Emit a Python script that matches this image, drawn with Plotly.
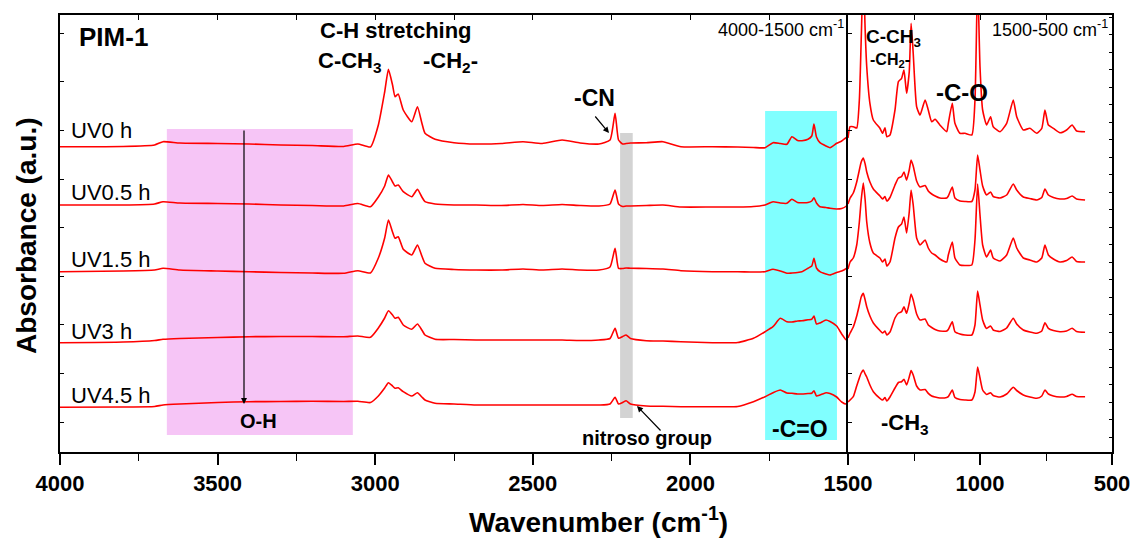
import plotly.graph_objects as go

# ---------------- data (absorbance, arbitrary units, offset spectra) ----------------
wn_left = [4000, 3800, 3700, 3673, 3620, 3500, 3400, 3300, 3200, 3100,
           3055, 3015, 2990, 2970, 2958, 2945, 2937, 2927, 2911, 2884,
           2866, 2852, 2842, 2810, 2750, 2680, 2600, 2531, 2470, 2407,
           2350, 2290, 2255, 2239, 2228, 2215, 2204, 2190, 2140, 2087,
           2030, 1930, 1850, 1800, 1763, 1738, 1715, 1694, 1678, 1660,
           1646, 1627, 1615, 1608, 1600, 1589, 1570, 1557, 1536, 1520,
           1505, 1500]

uv0_left = [30.53, 30.55, 30.70, 31.03, 30.90, 30.85, 30.80, 30.70, 30.65, 30.55,
            30.80, 30.50, 32.70, 36.00, 38.27, 36.70, 35.53, 35.80, 34.20, 33.03,
            34.53, 32.90, 31.87, 31.27, 30.93, 30.80, 30.85, 31.03, 30.85, 31.20,
            30.90, 30.80, 31.20, 33.87, 31.20, 30.80, 30.85, 30.90, 30.93, 31.03,
            30.53, 30.53, 30.50, 30.45, 30.43, 30.93, 30.85, 30.77, 31.53, 31.15,
            31.13, 31.27, 31.60, 32.80, 31.50, 30.93, 30.60, 30.43, 30.87, 31.10,
            31.45, 31.50]
uv05_left = [24.70, 24.70, 24.80, 25.03, 24.90, 24.85, 24.80, 24.70, 24.65, 24.60,
             24.85, 24.53, 25.50, 26.60, 27.70, 27.00, 26.60, 26.70, 26.03, 25.53,
             26.27, 25.50, 25.03, 24.80, 24.70, 24.70, 24.65, 24.75, 24.65, 24.75,
             24.65, 24.60, 24.80, 26.20, 24.80, 24.55, 24.60, 24.60, 24.65, 24.70,
             24.50, 24.50, 24.50, 24.55, 24.70, 25.03, 24.90, 24.87, 25.27, 24.95,
             24.93, 24.95, 25.10, 25.43, 24.90, 24.53, 24.45, 24.37, 24.30, 24.35,
             24.60, 24.80]
uv15_left = [18.03, 18.10, 18.20, 18.37, 18.20, 18.10, 18.03, 17.95, 17.90, 17.87,
             18.13, 17.90, 19.40, 21.40, 23.20, 22.00, 21.37, 21.53, 20.27, 19.70,
             20.70, 19.60, 18.87, 18.37, 18.25, 18.20, 18.20, 18.30, 18.20, 18.30,
             18.20, 18.20, 18.50, 20.37, 18.37, 18.35, 18.40, 18.37, 18.35, 18.30,
             18.13, 18.03, 18.03, 18.00, 18.03, 18.27, 18.10, 17.87, 17.90, 17.95,
             18.03, 18.37, 18.60, 19.37, 18.40, 18.03, 17.80, 17.70, 17.95, 18.10,
             18.37, 18.50]
uv3_left = [10.93, 11.00, 11.15, 11.27, 11.35, 11.45, 11.53, 11.55, 11.55, 11.53,
            11.60, 11.47, 12.40, 13.40, 14.13, 13.70, 13.37, 13.47, 12.70, 12.27,
            12.80, 12.20, 11.70, 11.27, 11.25, 11.20, 11.20, 11.20, 11.20, 11.20,
            11.15, 11.20, 11.35, 12.37, 11.37, 11.55, 11.70, 11.35, 11.13, 11.10,
            11.03, 10.93, 10.95, 11.37, 12.03, 12.53, 13.37, 13.03, 13.00, 13.10,
            13.13, 13.22, 13.27, 13.60, 12.80, 12.90, 13.20, 13.05, 12.60, 11.80,
            11.20, 11.50]
uv45_left = [4.47, 4.50, 4.55, 4.70, 4.80, 4.95, 5.03, 5.05, 5.07, 5.05,
             5.07, 4.95, 5.60, 6.40, 6.93, 6.60, 6.37, 6.43, 6.03, 5.60,
             5.93, 5.50, 5.20, 4.87, 4.80, 4.70, 4.70, 4.70, 4.70, 4.70,
             4.70, 4.70, 4.80, 5.47, 4.80, 4.95, 5.13, 4.80, 4.60, 4.57,
             4.53, 4.53, 4.55, 5.03, 5.53, 5.93, 6.20, 5.90, 5.87, 5.80,
             5.80, 5.85, 5.87, 6.13, 5.60, 5.70, 5.93, 5.85, 5.50, 5.00,
             4.80, 5.00]

wn_right = [1500, 1492, 1480, 1467, 1457, 1450, 1442, 1435, 1429, 1417,
            1404, 1379, 1369, 1360, 1353, 1341, 1322, 1309, 1297, 1288,
            1278, 1268, 1261, 1253, 1240, 1227, 1208, 1196, 1183, 1170,
            1152, 1126, 1120, 1105, 1095, 1076, 1057, 1031, 1019, 1009,
            1000, 990, 975, 960, 950, 924, 899, 874, 861, 836,
            811, 785, 766, 754, 741, 722, 697, 672, 651, 634,
            602]

uv0_right = [31.40, 32.53, 32.53, 32.40, 35.20, 41.20, 48.20, 42.20, 38.53, 34.87,
             33.20, 32.37, 31.87, 32.43, 31.53, 31.70, 34.20, 37.03, 37.37, 38.20,
             35.87, 38.03, 42.87, 39.87, 34.53, 33.70, 35.20, 34.20, 33.03, 33.27,
             32.70, 32.03, 32.87, 34.87, 32.87, 31.87, 31.87, 31.70, 35.20, 47.20,
             38.53, 34.20, 32.70, 33.53, 32.53, 32.03, 32.87, 35.20, 33.53, 32.20,
             32.37, 31.87, 32.37, 34.20, 32.70, 32.37, 31.93, 32.20, 32.70, 32.10,
             32.03]
uv05_right = [24.80, 25.40, 25.90, 27.00, 28.20, 29.00, 29.40, 28.80, 28.00, 27.00,
              26.30, 25.60, 25.30, 25.55, 25.10, 25.45, 26.70, 27.40, 27.55, 28.00,
              27.20, 28.20, 29.20, 28.60, 27.10, 26.50, 26.65, 26.10, 25.80, 25.60,
              25.40, 25.40, 25.60, 26.50, 25.40, 25.10, 25.05, 25.05, 26.20, 29.70,
              28.20, 26.60, 25.70, 26.00, 25.55, 25.40, 25.70, 26.80, 26.20, 25.50,
              25.35, 25.20, 25.45, 26.30, 25.70, 25.45, 25.30, 25.35, 25.60, 25.30,
              25.20]
uv15_right = [18.30, 19.00, 19.40, 20.70, 23.00, 25.20, 26.90, 25.20, 23.00, 20.90,
              19.90, 19.40, 19.00, 19.30, 18.60, 19.00, 21.40, 22.50, 22.80, 23.50,
              21.90, 24.00, 26.20, 24.70, 21.40, 20.70, 21.20, 20.40, 19.90, 19.70,
              19.30, 19.00, 19.70, 21.00, 19.40, 18.70, 18.65, 18.70, 21.20, 26.80,
              23.70, 20.70, 19.50, 20.20, 19.40, 19.10, 19.70, 21.40, 20.40, 19.40,
              19.20, 19.00, 19.40, 20.70, 19.70, 19.30, 19.00, 19.15, 19.50, 19.05,
              19.00]
uv3_right = [11.40, 11.90, 12.50, 13.60, 14.70, 15.50, 15.87, 15.20, 14.53, 13.60,
             12.90, 12.15, 11.90, 12.10, 11.70, 12.00, 13.40, 13.90, 14.03, 14.53,
             13.87, 14.90, 15.80, 15.20, 13.80, 13.20, 13.30, 12.70, 12.45, 12.25,
             12.10, 12.10, 12.25, 13.03, 12.03, 11.80, 11.70, 11.70, 12.70, 16.10,
             14.70, 13.20, 12.35, 12.60, 12.20, 12.05, 12.40, 13.37, 12.80, 12.20,
             12.00, 11.87, 12.10, 12.93, 12.37, 12.15, 12.03, 12.10, 12.37, 12.05,
             11.97]
uv45_right = [5.00, 5.20, 5.53, 6.60, 7.40, 7.90, 8.20, 7.80, 7.50, 6.70,
              6.03, 5.37, 5.20, 5.45, 5.10, 5.50, 6.40, 6.95, 7.03, 7.27,
              6.70, 7.50, 8.15, 7.70, 6.60, 6.20, 6.25, 5.87, 5.60, 5.50,
              5.40, 5.45, 5.53, 6.20, 5.45, 5.25, 5.20, 5.20, 6.00, 8.50,
              7.40, 6.20, 5.75, 5.93, 5.65, 5.50, 5.80, 6.47, 6.15, 5.70,
              5.50, 5.37, 5.60, 6.20, 5.80, 5.60, 5.50, 5.55, 5.77, 5.55,
              5.53]

series_names = ["UV0 h", "UV0.5 h", "UV1.5 h", "UV3 h", "UV4.5 h"]
left_values = [uv0_left, uv05_left, uv15_left, uv3_left, uv45_left]
right_values = [uv0_right, uv05_right, uv15_right, uv3_right, uv45_right]

x_ticks_left = [4000, 3500, 3000, 2500, 2000, 1500]
x_ticks_right = [1500, 1000, 500]
x_ticktext_right = ["", "1000", "500"]

# highlighted regions (wavenumber ranges, absorbance ranges)
oh_region = (3661, 3071, 1.7, 32.3)
nitroso_region = (2223, 2183, 3.4, 31.9)
co_region = (1763, 1535, 1.2, 34.1)

for v in left_values:
    assert len(v) == len(wn_left)
for v in right_values:
    assert len(v) == len(wn_right)

# ---------------- figure ----------------
FONT = "Liberation Sans, Arial, sans-serif"
W, H = 1137, 539
ML, MR, MT, MB = 60, 25, 15, 87
PW = W - ML - MR
PH = H - MT - MB


def px(x):
    return (x - ML) / PW


def py(y):
    return (H - MB - y) / PH


split = px(848)
YR = [0, 43.7]
RED = "#FF0000"
LINE = dict(color=RED, width=1.6, shape="spline", smoothing=0.5)

fig = go.Figure()
for name, vals in zip(series_names, left_values):
    fig.add_trace(go.Scatter(x=wn_left, y=vals, mode="lines", name=name, line=LINE,
                             xaxis="x", yaxis="y", showlegend=False))
for name, vals in zip(series_names, right_values):
    fig.add_trace(go.Scatter(x=wn_right, y=vals, mode="lines", name=name, line=LINE,
                             xaxis="x2", yaxis="y2", showlegend=False))
# invisible helpers so overlay axes render
fig.add_trace(go.Scatter(x=[None], y=[None], xaxis="x3", yaxis="y", showlegend=False))
fig.add_trace(go.Scatter(x=[None], y=[None], xaxis="x4", yaxis="y2", showlegend=False))
fig.add_trace(go.Scatter(x=[None], y=[None], xaxis="x2", yaxis="y3", showlegend=False))

tickfont = dict(family=FONT, size=22, color="black", weight="bold")
axis_common = dict(showline=True, linecolor="black", linewidth=1.5, showgrid=False,
                   zeroline=False, tickcolor="black", automargin=False)

fig.update_layout(
    width=W, height=H, autosize=False,
    margin=dict(l=ML, r=MR, t=MT, b=MB, autoexpand=False),
    paper_bgcolor="white", plot_bgcolor="white",
    font=dict(family=FONT, color="black"),
    xaxis=dict(domain=[0, split], range=[4000, 1500], anchor="y",
               tickmode="array", tickvals=x_ticks_left, ticks="outside",
               ticklen=11, tickwidth=1.5, tickfont=tickfont,
               minor=dict(dtick=250, tick0=0, ticks="outside", ticklen=7,
                          tickwidth=1.3, tickcolor="black", showgrid=False),
               **axis_common),
    xaxis2=dict(domain=[split, 1], range=[1500, 500], anchor="y2",
                tickmode="array", tickvals=x_ticks_right, ticktext=x_ticktext_right,
                ticks="outside", ticklen=11, tickwidth=1.5, tickfont=tickfont,
                minor=dict(dtick=250, tick0=0, ticks="outside", ticklen=7,
                           tickwidth=1.3, tickcolor="black", showgrid=False),
                **axis_common),
    xaxis3=dict(overlaying="x", side="top", anchor="y", range=[4000, 1500],
                tickmode="linear", tick0=0, dtick=250, ticks="inside", ticklen=5,
                tickwidth=1.2, showticklabels=False, **axis_common),
    xaxis4=dict(overlaying="x2", side="top", anchor="y2", range=[1500, 500],
                tickmode="linear", tick0=0, dtick=250, ticks="inside", ticklen=5,
                tickwidth=1.2, showticklabels=False, **axis_common),
    yaxis=dict(domain=[0, 1], range=YR, anchor="x", tickmode="linear",
               tick0=3.0, dtick=4.86, ticks="inside", ticklen=4, tickwidth=1.2,
               showticklabels=False, **axis_common),
    yaxis2=dict(domain=[0, 1], range=YR, anchor="x2", tickmode="linear",
                tick0=3.0, dtick=4.86, ticks="inside", ticklen=4, tickwidth=1.2,
                showticklabels=False, **axis_common),
    yaxis3=dict(overlaying="y2", side="right", anchor="x2", range=YR,
                tickmode="linear", tick0=1.5, dtick=1.75, ticks="inside",
                ticklen=3, tickwidth=1.2, showticklabels=False, **axis_common),
)

# shaded regions
for (x0, x1, y0, y1), col in [(oh_region, "rgb(246,197,246)"),
                              (nitroso_region, "rgb(211,211,211)"),
                              (co_region, "rgb(128,255,255)")]:
    fig.add_shape(type="rect", xref="x", yref="y", x0=x0, x1=x1, y0=y0, y1=y1,
                  fillcolor=col, line=dict(width=0), layer="below")


def text(s, x, y, size, xanchor="center", bold=True):
    fig.add_annotation(text=(f"<b>{s}</b>" if bold else s), xref="paper", yref="paper",
                       x=px(x), y=py(y), xanchor=xanchor, yanchor="middle",
                       showarrow=False, font=dict(family=FONT, size=size, color="black"))


text("PIM-1", 113, 37, 26)
text("C-H stretching", 396, 30, 22)
text("C-CH<sub>3</sub>", 316, 62, 22, xanchor="left")
text("-CH<sub>2</sub>-", 421, 62, 22, xanchor="left")
text("-CN", 594, 98, 23)
text("4000-1500 cm<sup>-1</sup>", 846, 28, 18, xanchor="right", bold=False)
text("1500-500 cm<sup>-1</sup>", 1110, 28, 18, xanchor="right", bold=False)
text("C-CH<sub>3</sub>", 864, 38, 19, xanchor="left")
text("-CH<sub>2</sub>-", 868, 60, 16, xanchor="left")
text("-C-O", 962, 92, 24)
text("-CH<sub>3</sub>", 879, 424, 22, xanchor="left")
text("-C=O", 800, 429, 23)
text("nitroso group", 647, 438, 20)
text("O-H", 258, 421, 20)

label_y = [130, 192, 259, 331, 395]
for name, yy in zip(series_names, label_y):
    text(name, 69, yy, 22, xanchor="left", bold=False)

# axis titles
fig.add_annotation(text="<b>Absorbance (a.u.)</b>", xref="paper", yref="paper",
                   x=px(26), y=py(236), textangle=-90, showarrow=False,
                   xanchor="center", yanchor="middle",
                   font=dict(family=FONT, size=28, color="black"))
fig.add_annotation(text="<b>Wavenumber (cm<sup>-1</sup>)</b>", xref="paper", yref="paper",
                   x=px(598), y=py(520), showarrow=False,
                   xanchor="center", yanchor="middle",
                   font=dict(family=FONT, size=28, color="black"))


def arrow(hx, hy, dx, dy):
    fig.add_annotation(text="", xref="paper", yref="paper", x=px(hx), y=py(hy),
                       ax=dx, ay=dy, axref="pixel", ayref="pixel", showarrow=True,
                       arrowhead=2, arrowsize=1, arrowwidth=1.2, arrowcolor="black")


arrow(244, 404, 0, -275)   # O-H
arrow(609, 133, -15, -18)  # -CN
arrow(637, 406, 25, 26)    # nitroso group

fig.write_html("out.html")
